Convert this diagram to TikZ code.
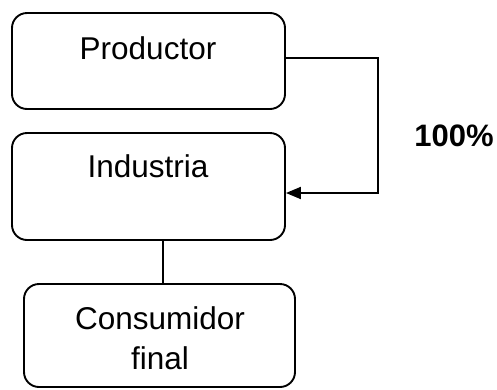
\documentclass[tikz,border=0pt]{standalone}
\usepackage{fontspec}
\setmainfont{Liberation Sans}
\usetikzlibrary{arrows.meta}
\begin{document}
\begin{tikzpicture}[x=1pt,y=-1pt,
  box/.style={draw,line width=1.9pt,rounded corners=15pt,inner sep=0pt,minimum width=273pt},
  conn/.style={line width=1.9pt},
  lbl/.style={font=\fontsize{31.5}{37}\selectfont,inner sep=0pt}]
\useasboundingbox (0,0) rectangle (497,389);
\node[box,minimum height=96pt] (prod) at (148.5,61) {};
\node[box,minimum height=107pt] (ind) at (148.5,186.5) {};
\node[box,minimum width=271pt,minimum height=103pt] (cons) at (159.5,335.5) {};
\node[lbl] (tprod) at (148,48) {Productor};
\node[lbl] (tind) at (148,166) {Industria};
\node[lbl] (tcons) at (160,318) {Consumidor};
\node[lbl] (tfin) at (160,358) {final};
\node[lbl,font=\fontsize{31}{37}\selectfont\bfseries] (pct) at (454,136) {100\%};
\coordinate (c1) at (378,58);
\coordinate (c2) at (378,193);
\draw[conn,-{Triangle[length=15pt,width=12pt]}] (prod.east |- c1) -- (c1) -- (c2) -- (ind.east |- c2);
\draw[conn] (ind.south -| 163,0) -- (cons.north -| 163,0);
\end{tikzpicture}
\end{document}
